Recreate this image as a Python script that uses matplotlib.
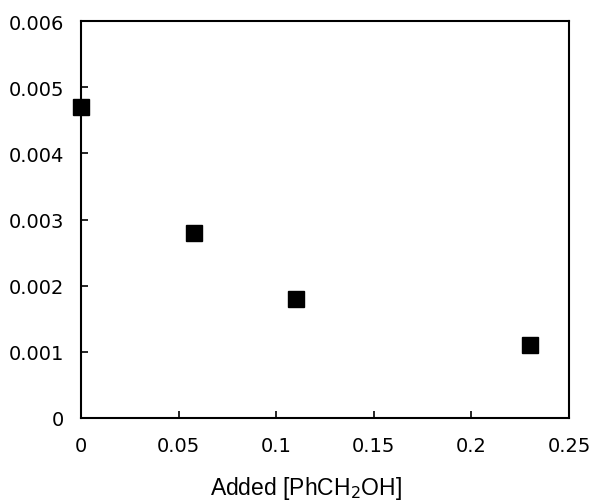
import matplotlib
matplotlib.use("Agg")
import matplotlib.pyplot as plt

# --- Data ---
added_benzyl_alcohol = [0.0, 0.058, 0.11, 0.23]
response = [0.0047, 0.0028, 0.0018, 0.0011]

x_ticks = [0, 0.05, 0.1, 0.15, 0.2, 0.25]
x_tick_labels = ["0", "0.05", "0.1", "0.15", "0.2", "0.25"]
y_ticks = [0, 0.001, 0.002, 0.003, 0.004, 0.005, 0.006]
y_tick_labels = ["0", "0.001", "0.002", "0.003", "0.004", "0.005", "0.006"]

plt.rcParams.update({"font.family": "DejaVu Sans", "font.size": 14})

fig = plt.figure(figsize=(6.0, 5.02), dpi=100)
ax = fig.add_axes([81 / 600, 1 - 419 / 502, (569 - 81) / 600, (419 - 22) / 502])

ax.plot(added_benzyl_alcohol, response, linestyle="none", marker="s",
        markersize=12, color="black", clip_on=False, zorder=3)

ax.set_xlim(0, 0.25)
ax.set_ylim(0, 0.006)
ax.set_xticks(x_ticks)
ax.set_xticklabels(x_tick_labels)
ax.set_yticks(y_ticks)
ax.set_yticklabels(y_tick_labels)
ax.tick_params(direction="in", length=5, width=1.2, pad=12)
ax.tick_params(axis="x", pad=13)
for s in ax.spines.values():
    s.set_linewidth(1.5)

ax.set_xlabel("Added [PhCH$_2$OH]", fontfamily="Liberation Sans", fontsize=16.5, labelpad=14)
ax.xaxis.label.set_x((306 - 81) / (569 - 81))

fig.savefig("out.png", dpi=100)
